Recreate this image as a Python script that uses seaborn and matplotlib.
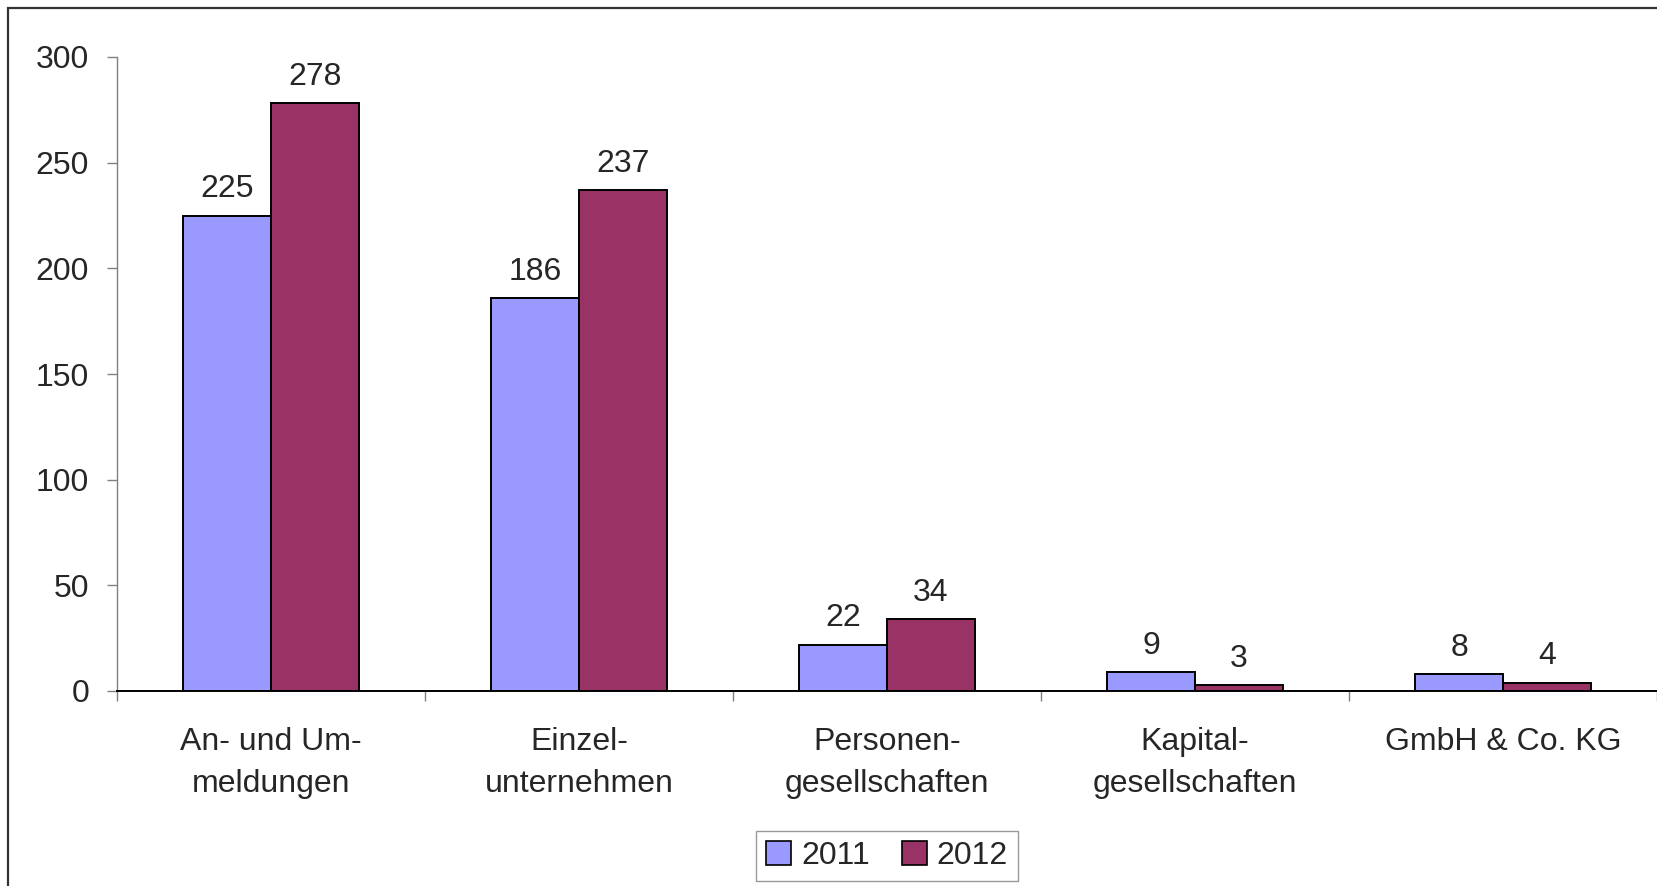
import numpy as np
import pandas as pd
import matplotlib
matplotlib.use("Agg")
import matplotlib.pyplot as plt
from matplotlib.patches import Rectangle
import seaborn as sns

# Data
categories = ["An- und Um-\nmeldungen", "Einzel-\nunternehmen", "Personen-\ngesellschaften",
              "Kapital-\ngesellschaften", "GmbH & Co. KG"]
years = ["2011", "2012"]
values_2011 = [225, 186, 22, 9, 8]
values_2012 = [278, 237, 34, 3, 4]
colors = ["#9999FF", "#993366"]

df = pd.DataFrame({
    "Kategorie": categories * 2,
    "Jahr": [years[0]] * len(categories) + [years[1]] * len(categories),
    "Anzahl": values_2011 + values_2012,
})

sns.set_style("white")
plt.rcParams["font.family"] = ["Liberation Sans", "DejaVu Sans"]
FS = 23

fig = plt.figure(figsize=(16.58, 8.86), dpi=100)
ax = fig.add_axes([117 / 1658, 195 / 886, 1 - 117 / 1658 - 0.0006, (829 - 195) / 886])

sns.barplot(data=df, x="Kategorie", y="Anzahl", hue="Jahr", palette=colors,
            width=0.57, gap=0, edgecolor="black", linewidth=1.4, saturation=1,
            ax=ax, legend=True)

for cont in ax.containers:
    ax.bar_label(cont, fmt="%d", padding=8, fontsize=FS)

ax.set_ylim(0, 300)
ax.set_xlim(-0.5, 4.5)
ax.set_yticks(np.arange(0, 301, 50))
ax.set_xticks(np.arange(-0.5, 4.6, 1.0))
ax.set_xticklabels([])
ax.set_xticks(range(len(categories)), categories, minor=True)
ax.tick_params(axis="x", which="minor", bottom=False, length=0, pad=26, labelsize=FS)
ax.tick_params(axis="x", which="major", bottom=True, length=7, width=1, color="#808080", direction="out")
ax.tick_params(axis="y", left=True, length=7, width=1, color="#808080", direction="out", pad=13, labelsize=FS)
for lbl in ax.get_xticklabels(minor=True):
    lbl.set_linespacing(1.5)
ax.set_xlabel("")
ax.set_ylabel("")

for s in ["top", "right"]:
    ax.spines[s].set_visible(False)
ax.spines["left"].set_color("#808080")
ax.spines["left"].set_linewidth(1)
ax.spines["bottom"].set_color("black")
ax.spines["bottom"].set_linewidth(1.4)

leg = ax.legend(loc="center", bbox_to_anchor=(887 / 1658, (886 - 856) / 886),
                bbox_transform=fig.transFigure, ncol=2, fontsize=FS, frameon=True,
                fancybox=False, edgecolor="#808080", handlelength=0.8, handleheight=0.8,
                handletextpad=0.3, columnspacing=1.0, borderpad=0.3, borderaxespad=0)
leg.get_frame().set_linewidth(1)
for h in leg.legend_handles:
    h.set_edgecolor("black")
    h.set_linewidth(1.2)

# outer chart frame
fig.patches.append(Rectangle((8 / 1658, -0.1), 1.2, (878 / 886) + 0.1, transform=fig.transFigure,
                             fill=False, edgecolor="#333333", linewidth=1.6))

fig.savefig("out.png", dpi=100)
